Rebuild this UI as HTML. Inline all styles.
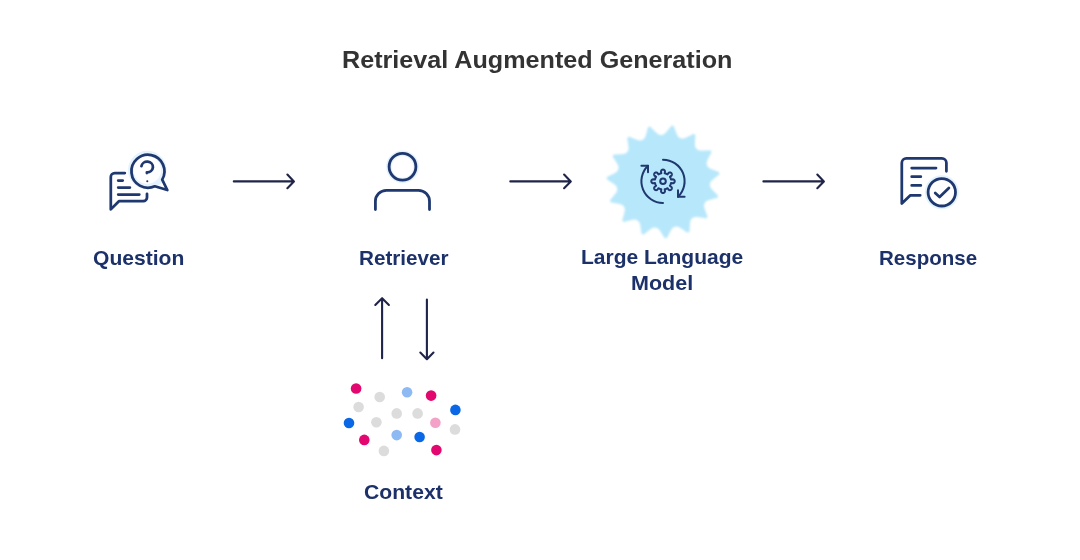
<!DOCTYPE html>
<html><head><meta charset="utf-8">
<style>
html,body{margin:0;padding:0;background:#fff;}
body{width:1080px;height:560px;position:relative;overflow:hidden;font-family:"Liberation Sans",sans-serif;}
.t{position:absolute;white-space:nowrap;font-weight:bold;line-height:1;transform-origin:0 0;}
.ttl{color:#333333;}
.lbl{color:#1c3169;}
#wrap{position:absolute;left:0;top:0;width:1080px;height:560px;filter:blur(0.45px);}
</style></head><body><div id="wrap">

<svg width="1080" height="560" viewBox="0 0 1080 560" style="position:absolute;left:0;top:0">
 <g fill="none" stroke-linecap="round" stroke-linejoin="round">
  <!-- Question icon -->
  <g stroke="#1f386f" stroke-width="2.75">
   <circle cx="147.3" cy="170" r="16.5" stroke="#e4f3fd" stroke-width="5.5"/>
   <path d="M124.8,173 H114.7 A3.9,3.9 0 0 0 110.8,176.9 V209.4 L118.9,201.2 H143.2 A3.8,3.8 0 0 0 147,197.4 V193.8"/>
   <path d="M118.2,180.5 H122.7 M118.2,187.6 H129.9 M118.2,194.6 H139.3"/>
   <path d="M162.2,179.6 A16.5,16.5 0 1 0 154.8,186.3 L167.3,190 Z"/>
   <path d="M141.4,166.2 A5.8,5.3 0 1 1 146.9,172.3 V173"/>
   <circle cx="147.3" cy="181.3" r="1.05" fill="#1f386f" stroke="none"/>
  </g>
  <!-- Retriever icon -->
  <g stroke="#1f386f" stroke-width="2.8">
   <circle cx="402.5" cy="166.8" r="13.6" stroke="#e4f3fd" stroke-width="5.5"/>
   <circle cx="402.5" cy="166.8" r="13.4"/>
   <path d="M375.4,209.6 V201.3 A11,11 0 0 1 386.4,190.3 H418.5 A11,11 0 0 1 429.5,201.3 V209.6"/>
  </g>
  <!-- LLM burst -->
  <defs><filter id="bl" x="-10%" y="-10%" width="120%" height="120%"><feGaussianBlur stdDeviation="0.8"/></filter></defs>
  <path d="M663.30,134.56 L663.46,134.48 L663.63,134.40 L663.80,134.30 L663.96,134.20 L664.13,134.08 L664.30,133.96 L664.47,133.83 L664.64,133.69 L664.81,133.54 L664.98,133.38 L665.16,133.22 L665.34,133.04 L665.51,132.86 L665.69,132.67 L665.87,132.48 L666.06,132.27 L666.24,132.06 L666.43,131.85 L666.62,131.63 L666.81,131.40 L667.00,131.17 L667.20,130.94 L667.39,130.71 L667.59,130.47 L667.79,130.23 L668.00,129.98 L668.20,129.74 L668.41,129.50 L668.62,129.25 L668.83,129.00 L669.04,128.75 L669.26,128.50 L669.47,128.24 L669.69,127.98 L669.92,127.71 L670.15,127.42 L670.38,127.09 L670.63,126.67 L670.89,126.18 L671.11,126.03 L671.32,125.91 L671.53,125.83 L671.74,125.78 L671.95,125.75 L672.15,125.74 L672.35,125.75 L672.54,125.76 L672.74,125.80 L672.93,125.84 L673.12,125.90 L673.31,125.98 L673.49,126.08 L673.67,126.19 L673.84,126.33 L674.01,126.51 L674.17,126.73 L674.25,127.28 L674.35,127.75 L674.47,128.14 L674.59,128.49 L674.71,128.82 L674.83,129.14 L674.96,129.45 L675.08,129.76 L675.20,130.07 L675.32,130.37 L675.43,130.67 L675.55,130.97 L675.66,131.27 L675.78,131.56 L675.89,131.86 L676.00,132.15 L676.11,132.43 L676.22,132.72 L676.32,133.00 L676.43,133.27 L676.54,133.54 L676.64,133.80 L676.75,134.06 L676.86,134.31 L676.97,134.56 L677.08,134.80 L677.18,135.03 L677.29,135.25 L677.41,135.46 L677.52,135.67 L677.63,135.86 L677.75,136.05 L677.87,136.23 L677.99,136.40 L678.11,136.56 L678.23,136.72 L678.36,136.86 L678.48,137.00 L678.61,137.12 L678.75,137.24 L678.88,137.35 L679.02,137.46 L679.16,137.56 L679.30,137.65 L679.44,137.73 L679.59,137.81 L679.73,137.88 L679.88,137.95 L680.03,138.02 L680.18,138.08 L680.33,138.14 L680.48,138.20 L680.63,138.26 L680.79,138.32 L680.94,138.37 L681.10,138.42 L681.25,138.47 L681.41,138.51 L681.58,138.54 L681.74,138.57 L681.91,138.60 L682.08,138.61 L682.25,138.62 L682.43,138.63 L682.61,138.62 L682.80,138.61 L682.99,138.59 L683.19,138.56 L683.38,138.53 L683.59,138.49 L683.80,138.43 L684.01,138.38 L684.23,138.31 L684.45,138.24 L684.68,138.16 L684.91,138.07 L685.15,137.97 L685.39,137.88 L685.63,137.77 L685.88,137.66 L686.14,137.54 L686.40,137.42 L686.66,137.30 L686.92,137.17 L687.19,137.04 L687.47,136.91 L687.74,136.77 L688.02,136.63 L688.30,136.50 L688.59,136.36 L688.87,136.22 L689.16,136.08 L689.45,135.94 L689.74,135.80 L690.04,135.66 L690.34,135.51 L690.64,135.37 L690.95,135.22 L691.27,135.06 L691.59,134.88 L691.94,134.68 L692.34,134.40 L692.78,134.06 L693.04,134.01 L693.28,133.99 L693.50,134.01 L693.71,134.04 L693.91,134.10 L694.10,134.17 L694.28,134.25 L694.45,134.35 L694.62,134.46 L694.78,134.58 L694.92,134.71 L695.06,134.86 L695.19,135.02 L695.31,135.20 L695.41,135.40 L695.49,135.63 L695.54,135.89 L695.40,136.43 L695.30,136.90 L695.25,137.30 L695.22,137.67 L695.19,138.02 L695.17,138.37 L695.16,138.70 L695.14,139.03 L695.13,139.36 L695.11,139.69 L695.10,140.01 L695.08,140.33 L695.07,140.65 L695.05,140.96 L695.03,141.28 L695.01,141.59 L695.00,141.89 L694.98,142.20 L694.97,142.49 L694.95,142.79 L694.94,143.08 L694.93,143.36 L694.92,143.64 L694.92,143.92 L694.92,144.18 L694.92,144.45 L694.93,144.70 L694.94,144.95 L694.95,145.19 L694.97,145.42 L695.00,145.65 L695.03,145.87 L695.06,146.08 L695.10,146.28 L695.14,146.48 L695.20,146.67 L695.25,146.85 L695.31,147.03 L695.38,147.20 L695.45,147.36 L695.53,147.52 L695.61,147.67 L695.70,147.81 L695.79,147.95 L695.89,148.09 L695.99,148.22 L696.09,148.35 L696.20,148.47 L696.31,148.59 L696.42,148.71 L696.53,148.83 L696.65,148.94 L696.76,149.06 L696.88,149.17 L697.00,149.28 L697.12,149.39 L697.25,149.50 L697.38,149.60 L697.51,149.70 L697.65,149.79 L697.79,149.88 L697.94,149.97 L698.10,150.05 L698.26,150.12 L698.42,150.19 L698.60,150.26 L698.78,150.32 L698.97,150.37 L699.17,150.42 L699.37,150.47 L699.58,150.50 L699.80,150.54 L700.03,150.56 L700.26,150.59 L700.50,150.61 L700.75,150.62 L701.00,150.63 L701.26,150.64 L701.53,150.64 L701.80,150.64 L702.08,150.64 L702.37,150.64 L702.66,150.63 L702.95,150.62 L703.25,150.61 L703.55,150.60 L703.86,150.59 L704.17,150.58 L704.48,150.57 L704.80,150.55 L705.12,150.54 L705.44,150.53 L705.76,150.52 L706.09,150.51 L706.42,150.50 L706.75,150.49 L707.08,150.48 L707.43,150.47 L707.78,150.46 L708.15,150.43 L708.55,150.39 L709.03,150.29 L709.57,150.16 L709.83,150.22 L710.05,150.30 L710.25,150.41 L710.43,150.52 L710.59,150.66 L710.73,150.80 L710.86,150.95 L710.98,151.11 L711.09,151.27 L711.18,151.45 L711.26,151.63 L711.33,151.82 L711.38,152.02 L711.41,152.23 L711.42,152.45 L711.40,152.70 L711.35,152.96 L711.00,153.39 L710.71,153.78 L710.50,154.13 L710.32,154.45 L710.16,154.76 L710.00,155.07 L709.85,155.37 L709.70,155.67 L709.56,155.96 L709.41,156.25 L709.27,156.54 L709.12,156.82 L708.98,157.11 L708.83,157.39 L708.69,157.67 L708.55,157.94 L708.41,158.22 L708.27,158.49 L708.13,158.76 L708.00,159.02 L707.87,159.28 L707.75,159.54 L707.63,159.79 L707.51,160.04 L707.40,160.28 L707.30,160.52 L707.20,160.75 L707.11,160.98 L707.03,161.21 L706.95,161.43 L706.88,161.65 L706.82,161.86 L706.76,162.07 L706.71,162.27 L706.68,162.47 L706.65,162.66 L706.62,162.85 L706.61,163.04 L706.60,163.22 L706.60,163.40 L706.61,163.57 L706.62,163.74 L706.64,163.91 L706.67,164.08 L706.70,164.24 L706.74,164.40 L706.78,164.56 L706.83,164.72 L706.88,164.87 L706.93,165.02 L706.99,165.18 L707.05,165.33 L707.11,165.48 L707.17,165.63 L707.23,165.78 L707.30,165.93 L707.37,166.08 L707.44,166.23 L707.53,166.37 L707.61,166.51 L707.71,166.65 L707.81,166.79 L707.92,166.93 L708.04,167.06 L708.16,167.20 L708.29,167.33 L708.44,167.45 L708.59,167.58 L708.75,167.71 L708.92,167.83 L709.09,167.95 L709.28,168.07 L709.47,168.19 L709.68,168.30 L709.89,168.42 L710.11,168.53 L710.34,168.64 L710.57,168.76 L710.82,168.87 L711.07,168.98 L711.32,169.09 L711.58,169.20 L711.85,169.31 L712.12,169.43 L712.40,169.54 L712.68,169.65 L712.97,169.77 L713.26,169.88 L713.55,170.00 L713.84,170.12 L714.14,170.24 L714.43,170.36 L714.73,170.48 L715.03,170.60 L715.34,170.73 L715.64,170.86 L715.95,170.98 L716.27,171.11 L716.60,171.24 L716.95,171.37 L717.33,171.49 L717.81,171.60 L718.35,171.69 L718.57,171.85 L718.74,172.02 L718.88,172.20 L718.99,172.38 L719.08,172.56 L719.16,172.75 L719.22,172.94 L719.26,173.14 L719.29,173.33 L719.30,173.53 L719.30,173.73 L719.29,173.93 L719.26,174.13 L719.20,174.34 L719.12,174.55 L719.00,174.76 L718.84,174.98 L718.35,175.23 L717.93,175.47 L717.60,175.70 L717.30,175.92 L717.02,176.14 L716.76,176.36 L716.50,176.57 L716.24,176.78 L715.99,176.99 L715.74,177.20 L715.49,177.40 L715.24,177.60 L714.99,177.80 L714.74,178.00 L714.50,178.20 L714.26,178.39 L714.02,178.59 L713.78,178.78 L713.55,178.97 L713.32,179.15 L713.10,179.34 L712.88,179.52 L712.67,179.70 L712.46,179.88 L712.26,180.06 L712.07,180.24 L711.89,180.41 L711.71,180.59 L711.54,180.76 L711.38,180.93 L711.23,181.10 L711.08,181.27 L710.95,181.43 L710.82,181.60 L710.71,181.77 L710.60,181.93 L710.50,182.09 L710.41,182.26 L710.33,182.42 L710.26,182.58 L710.19,182.75 L710.14,182.91 L710.09,183.07 L710.05,183.23 L710.01,183.39 L709.98,183.56 L709.95,183.72 L709.93,183.88 L709.92,184.04 L709.90,184.21 L709.89,184.37 L709.88,184.53 L709.87,184.69 L709.87,184.86 L709.86,185.02 L709.87,185.18 L709.87,185.35 L709.88,185.51 L709.90,185.68 L709.92,185.84 L709.95,186.01 L709.98,186.18 L710.03,186.35 L710.08,186.52 L710.14,186.69 L710.21,186.86 L710.29,187.04 L710.37,187.21 L710.47,187.39 L710.57,187.57 L710.69,187.75 L710.81,187.94 L710.94,188.13 L711.08,188.31 L711.22,188.51 L711.38,188.70 L711.54,188.90 L711.71,189.09 L711.89,189.30 L712.07,189.50 L712.26,189.70 L712.45,189.91 L712.65,190.12 L712.85,190.34 L713.06,190.55 L713.27,190.77 L713.49,190.99 L713.70,191.21 L713.92,191.44 L714.14,191.67 L714.36,191.90 L714.59,192.13 L714.81,192.36 L715.03,192.60 L715.26,192.83 L715.49,193.07 L715.72,193.32 L715.96,193.56 L716.21,193.81 L716.47,194.07 L716.77,194.34 L717.16,194.63 L717.62,194.94 L717.75,195.18 L717.84,195.40 L717.90,195.62 L717.93,195.83 L717.94,196.04 L717.93,196.24 L717.90,196.44 L717.86,196.63 L717.81,196.82 L717.74,197.01 L717.66,197.19 L717.57,197.37 L717.45,197.54 L717.32,197.70 L717.16,197.86 L716.97,198.01 L716.74,198.14 L716.18,198.17 L715.70,198.22 L715.30,198.30 L714.94,198.38 L714.60,198.47 L714.27,198.55 L713.94,198.64 L713.62,198.73 L713.31,198.82 L712.99,198.91 L712.68,198.99 L712.37,199.07 L712.06,199.16 L711.76,199.24 L711.46,199.32 L711.16,199.40 L710.86,199.48 L710.57,199.55 L710.28,199.63 L709.99,199.71 L709.71,199.79 L709.44,199.87 L709.17,199.95 L708.91,200.03 L708.66,200.11 L708.41,200.19 L708.17,200.28 L707.94,200.36 L707.71,200.45 L707.49,200.54 L707.29,200.63 L707.09,200.73 L706.90,200.83 L706.71,200.93 L706.54,201.03 L706.38,201.14 L706.22,201.25 L706.07,201.36 L705.93,201.48 L705.80,201.60 L705.67,201.72 L705.56,201.85 L705.45,201.97 L705.34,202.10 L705.24,202.24 L705.15,202.37 L705.06,202.51 L704.97,202.65 L704.89,202.79 L704.82,202.94 L704.74,203.08 L704.66,203.22 L704.59,203.37 L704.52,203.52 L704.45,203.66 L704.38,203.81 L704.32,203.96 L704.26,204.12 L704.21,204.28 L704.16,204.44 L704.12,204.60 L704.09,204.77 L704.06,204.94 L704.04,205.12 L704.02,205.30 L704.01,205.49 L704.01,205.68 L704.02,205.87 L704.04,206.08 L704.06,206.28 L704.09,206.50 L704.12,206.71 L704.17,206.94 L704.22,207.17 L704.27,207.40 L704.33,207.64 L704.40,207.89 L704.48,208.14 L704.56,208.39 L704.64,208.65 L704.73,208.92 L704.82,209.19 L704.92,209.46 L705.02,209.74 L705.12,210.02 L705.22,210.30 L705.33,210.59 L705.43,210.88 L705.54,211.18 L705.65,211.48 L705.76,211.77 L705.87,212.08 L705.98,212.38 L706.09,212.69 L706.20,213.00 L706.31,213.31 L706.42,213.63 L706.54,213.95 L706.66,214.28 L706.80,214.62 L706.97,214.99 L707.21,215.41 L707.50,215.88 L707.52,216.15 L707.51,216.39 L707.48,216.61 L707.42,216.82 L707.34,217.01 L707.25,217.19 L707.15,217.36 L707.03,217.52 L706.91,217.68 L706.77,217.82 L706.62,217.95 L706.46,218.08 L706.29,218.19 L706.10,218.28 L705.89,218.36 L705.65,218.42 L705.39,218.45 L704.87,218.25 L704.41,218.10 L704.01,218.00 L703.65,217.93 L703.30,217.87 L702.96,217.82 L702.63,217.77 L702.30,217.72 L701.98,217.67 L701.66,217.62 L701.34,217.57 L701.02,217.52 L700.71,217.47 L700.40,217.42 L700.09,217.37 L699.78,217.32 L699.48,217.27 L699.18,217.23 L698.88,217.18 L698.59,217.14 L698.30,217.09 L698.02,217.06 L697.74,217.02 L697.47,216.99 L697.21,216.96 L696.95,216.93 L696.69,216.91 L696.44,216.90 L696.20,216.89 L695.97,216.88 L695.74,216.88 L695.52,216.89 L695.31,216.90 L695.10,216.92 L694.90,216.94 L694.70,216.97 L694.52,217.01 L694.34,217.05 L694.16,217.10 L693.99,217.16 L693.83,217.22 L693.67,217.28 L693.51,217.35 L693.37,217.43 L693.22,217.51 L693.08,217.60 L692.94,217.69 L692.81,217.78 L692.68,217.88 L692.55,217.98 L692.42,218.08 L692.29,218.18 L692.17,218.28 L692.04,218.39 L691.92,218.49 L691.80,218.60 L691.68,218.72 L691.56,218.83 L691.45,218.96 L691.34,219.08 L691.24,219.22 L691.14,219.36 L691.04,219.50 L690.95,219.66 L690.86,219.81 L690.78,219.98 L690.70,220.16 L690.63,220.34 L690.56,220.53 L690.49,220.73 L690.43,220.93 L690.38,221.15 L690.33,221.37 L690.28,221.60 L690.24,221.84 L690.19,222.08 L690.16,222.33 L690.12,222.59 L690.09,222.86 L690.06,223.13 L690.04,223.41 L690.01,223.69 L689.99,223.98 L689.97,224.27 L689.94,224.57 L689.92,224.87 L689.90,225.18 L689.88,225.49 L689.86,225.80 L689.84,226.12 L689.82,226.44 L689.79,226.76 L689.77,227.08 L689.74,227.40 L689.72,227.73 L689.69,228.06 L689.67,228.40 L689.64,228.74 L689.62,229.09 L689.61,229.46 L689.61,229.86 L689.66,230.35 L689.73,230.90 L689.65,231.15 L689.54,231.37 L689.42,231.56 L689.28,231.72 L689.13,231.86 L688.98,231.99 L688.81,232.10 L688.64,232.21 L688.46,232.29 L688.28,232.37 L688.09,232.43 L687.90,232.48 L687.69,232.51 L687.48,232.52 L687.26,232.51 L687.02,232.46 L686.76,232.38 L686.37,231.99 L686.01,231.66 L685.69,231.42 L685.38,231.20 L685.09,231.01 L684.80,230.82 L684.52,230.64 L684.24,230.46 L683.97,230.28 L683.69,230.11 L683.42,229.93 L683.15,229.76 L682.88,229.59 L682.62,229.41 L682.36,229.24 L682.10,229.07 L681.84,228.90 L681.58,228.74 L681.33,228.58 L681.08,228.42 L680.84,228.26 L680.60,228.11 L680.36,227.97 L680.12,227.83 L679.89,227.69 L679.67,227.56 L679.44,227.44 L679.22,227.33 L679.01,227.22 L678.80,227.12 L678.59,227.03 L678.38,226.94 L678.18,226.87 L677.99,226.80 L677.79,226.74 L677.60,226.69 L677.42,226.64 L677.23,226.61 L677.05,226.58 L676.88,226.56 L676.70,226.55 L676.53,226.55 L676.36,226.55 L676.19,226.56 L676.03,226.58 L675.86,226.60 L675.70,226.63 L675.54,226.66 L675.38,226.69 L675.22,226.73 L675.07,226.77 L674.91,226.81 L674.75,226.85 L674.59,226.90 L674.44,226.94 L674.28,226.99 L674.13,227.05 L673.97,227.11 L673.82,227.18 L673.67,227.25 L673.52,227.33 L673.37,227.41 L673.23,227.51 L673.08,227.61 L672.94,227.72 L672.79,227.84 L672.65,227.97 L672.51,228.10 L672.37,228.25 L672.23,228.41 L672.09,228.57 L671.95,228.74 L671.81,228.92 L671.68,229.11 L671.54,229.31 L671.40,229.52 L671.27,229.73 L671.13,229.96 L671.00,230.19 L670.86,230.42 L670.72,230.67 L670.58,230.92 L670.44,231.17 L670.30,231.43 L670.16,231.69 L670.02,231.96 L669.88,232.23 L669.73,232.51 L669.58,232.78 L669.44,233.06 L669.29,233.35 L669.14,233.63 L668.98,233.91 L668.83,234.20 L668.67,234.49 L668.51,234.78 L668.35,235.07 L668.19,235.38 L668.03,235.69 L667.87,236.02 L667.71,236.39 L667.55,236.85 L667.40,237.39 L667.21,237.58 L667.03,237.74 L666.84,237.86 L666.65,237.95 L666.45,238.02 L666.26,238.08 L666.06,238.11 L665.87,238.14 L665.67,238.15 L665.47,238.14 L665.27,238.12 L665.08,238.08 L664.88,238.03 L664.68,237.95 L664.48,237.85 L664.28,237.71 L664.08,237.53 L663.88,237.01 L663.68,236.57 L663.49,236.21 L663.30,235.90 L663.11,235.60 L662.93,235.31 L662.74,235.03 L662.56,234.75 L662.38,234.48 L662.20,234.21 L662.02,233.94 L661.85,233.67 L661.67,233.40 L661.50,233.14 L661.33,232.87 L661.16,232.61 L661.00,232.36 L660.83,232.10 L660.67,231.85 L660.50,231.60 L660.34,231.36 L660.18,231.13 L660.03,230.90 L659.87,230.67 L659.71,230.46 L659.56,230.25 L659.40,230.04 L659.25,229.85 L659.10,229.66 L658.94,229.49 L658.79,229.32 L658.64,229.16 L658.48,229.01 L658.33,228.86 L658.18,228.73 L658.03,228.61 L657.87,228.49 L657.72,228.39 L657.57,228.29 L657.41,228.20 L657.26,228.12 L657.10,228.04 L656.95,227.98 L656.79,227.92 L656.63,227.87 L656.47,227.82 L656.32,227.78 L656.16,227.74 L656.00,227.71 L655.84,227.68 L655.68,227.65 L655.52,227.62 L655.36,227.60 L655.19,227.57 L655.03,227.55 L654.87,227.54 L654.71,227.52 L654.54,227.52 L654.37,227.52 L654.21,227.52 L654.04,227.53 L653.87,227.55 L653.69,227.58 L653.52,227.61 L653.34,227.65 L653.16,227.70 L652.98,227.76 L652.80,227.83 L652.61,227.91 L652.42,227.99 L652.23,228.08 L652.03,228.19 L651.83,228.30 L651.63,228.41 L651.42,228.54 L651.21,228.67 L651.00,228.81 L650.79,228.96 L650.57,229.12 L650.35,229.28 L650.12,229.44 L649.89,229.61 L649.66,229.79 L649.43,229.97 L649.19,230.15 L648.95,230.34 L648.71,230.53 L648.47,230.72 L648.22,230.92 L647.97,231.11 L647.72,231.31 L647.47,231.50 L647.21,231.70 L646.96,231.90 L646.70,232.10 L646.43,232.30 L646.17,232.51 L645.90,232.72 L645.62,232.94 L645.34,233.18 L645.04,233.45 L644.71,233.81 L644.35,234.23 L644.11,234.34 L643.87,234.40 L643.65,234.43 L643.44,234.44 L643.23,234.43 L643.03,234.40 L642.84,234.35 L642.65,234.29 L642.47,234.22 L642.29,234.14 L642.11,234.04 L641.95,233.92 L641.79,233.79 L641.64,233.64 L641.50,233.47 L641.37,233.26 L641.26,233.01 L641.29,232.46 L641.29,231.97 L641.26,231.57 L641.22,231.20 L641.16,230.85 L641.11,230.52 L641.06,230.18 L641.00,229.86 L640.95,229.53 L640.90,229.21 L640.84,228.89 L640.79,228.58 L640.74,228.26 L640.69,227.95 L640.65,227.64 L640.60,227.33 L640.55,227.03 L640.50,226.73 L640.46,226.43 L640.41,226.14 L640.36,225.86 L640.31,225.58 L640.26,225.30 L640.21,225.03 L640.15,224.77 L640.09,224.52 L640.04,224.27 L639.97,224.03 L639.91,223.80 L639.84,223.57 L639.77,223.36 L639.70,223.15 L639.62,222.95 L639.54,222.76 L639.45,222.57 L639.36,222.40 L639.27,222.23 L639.17,222.07 L639.07,221.92 L638.97,221.78 L638.86,221.64 L638.75,221.51 L638.63,221.38 L638.51,221.27 L638.39,221.15 L638.27,221.05 L638.14,220.94 L638.01,220.85 L637.88,220.75 L637.74,220.66 L637.61,220.57 L637.47,220.48 L637.33,220.39 L637.20,220.30 L637.06,220.22 L636.91,220.14 L636.77,220.06 L636.62,219.98 L636.47,219.92 L636.32,219.85 L636.16,219.79 L635.99,219.74 L635.82,219.70 L635.65,219.66 L635.47,219.62 L635.29,219.59 L635.10,219.57 L634.90,219.56 L634.70,219.55 L634.49,219.55 L634.28,219.56 L634.06,219.57 L633.83,219.59 L633.60,219.62 L633.36,219.65 L633.11,219.69 L632.86,219.73 L632.60,219.78 L632.34,219.83 L632.07,219.89 L631.80,219.95 L631.52,220.01 L631.24,220.08 L630.96,220.15 L630.66,220.22 L630.37,220.29 L630.07,220.37 L629.77,220.44 L629.47,220.52 L629.16,220.60 L628.85,220.67 L628.54,220.75 L628.23,220.83 L627.91,220.90 L627.59,220.98 L627.27,221.06 L626.94,221.14 L626.61,221.22 L626.27,221.31 L625.91,221.41 L625.53,221.54 L625.08,221.73 L624.58,221.97 L624.32,221.97 L624.08,221.93 L623.86,221.87 L623.66,221.79 L623.48,221.70 L623.31,221.59 L623.15,221.47 L623.00,221.34 L622.86,221.20 L622.74,221.05 L622.62,220.89 L622.51,220.71 L622.42,220.53 L622.34,220.33 L622.29,220.11 L622.26,219.87 L622.26,219.61 L622.51,219.11 L622.71,218.67 L622.84,218.29 L622.95,217.93 L623.04,217.59 L623.13,217.26 L623.22,216.94 L623.30,216.62 L623.38,216.30 L623.47,215.98 L623.55,215.67 L623.63,215.36 L623.71,215.05 L623.80,214.75 L623.88,214.45 L623.96,214.15 L624.04,213.85 L624.12,213.56 L624.19,213.27 L624.27,212.98 L624.34,212.70 L624.41,212.42 L624.47,212.15 L624.54,211.89 L624.59,211.62 L624.64,211.37 L624.69,211.12 L624.73,210.87 L624.77,210.64 L624.80,210.40 L624.82,210.18 L624.84,209.96 L624.85,209.74 L624.85,209.53 L624.85,209.33 L624.84,209.14 L624.82,208.94 L624.80,208.76 L624.77,208.58 L624.73,208.41 L624.69,208.24 L624.64,208.07 L624.58,207.91 L624.52,207.76 L624.46,207.60 L624.39,207.45 L624.31,207.31 L624.23,207.17 L624.15,207.02 L624.06,206.89 L623.98,206.75 L623.89,206.61 L623.80,206.47 L623.71,206.34 L623.62,206.20 L623.52,206.07 L623.42,205.94 L623.32,205.81 L623.21,205.69 L623.09,205.57 L622.97,205.45 L622.84,205.34 L622.71,205.23 L622.56,205.12 L622.41,205.02 L622.26,204.92 L622.09,204.82 L621.92,204.73 L621.73,204.64 L621.54,204.56 L621.35,204.47 L621.14,204.40 L620.92,204.32 L620.70,204.25 L620.47,204.18 L620.23,204.12 L619.98,204.05 L619.73,203.99 L619.47,203.93 L619.20,203.88 L618.93,203.82 L618.65,203.77 L618.36,203.71 L618.07,203.66 L617.78,203.61 L617.48,203.55 L617.18,203.50 L616.87,203.45 L616.56,203.39 L616.25,203.34 L615.94,203.28 L615.62,203.23 L615.30,203.17 L614.98,203.11 L614.66,203.05 L614.34,202.99 L614.00,202.93 L613.67,202.87 L613.32,202.82 L612.95,202.76 L612.55,202.72 L612.06,202.72 L611.51,202.74 L611.27,202.62 L611.06,202.49 L610.89,202.35 L610.74,202.20 L610.61,202.04 L610.50,201.87 L610.41,201.69 L610.32,201.51 L610.25,201.33 L610.20,201.14 L610.16,200.94 L610.13,200.74 L610.12,200.54 L610.13,200.32 L610.17,200.10 L610.24,199.87 L610.35,199.63 L610.78,199.28 L611.14,198.95 L611.42,198.66 L611.66,198.38 L611.89,198.11 L612.10,197.84 L612.31,197.58 L612.52,197.32 L612.72,197.06 L612.93,196.81 L613.13,196.56 L613.33,196.31 L613.53,196.06 L613.73,195.81 L613.93,195.57 L614.12,195.33 L614.32,195.09 L614.51,194.86 L614.70,194.62 L614.88,194.39 L615.06,194.17 L615.23,193.94 L615.40,193.72 L615.57,193.50 L615.73,193.29 L615.88,193.07 L616.02,192.86 L616.16,192.66 L616.29,192.45 L616.41,192.25 L616.53,192.06 L616.63,191.86 L616.73,191.67 L616.81,191.48 L616.89,191.29 L616.96,191.11 L617.03,190.93 L617.08,190.75 L617.13,190.58 L617.16,190.40 L617.19,190.23 L617.21,190.06 L617.23,189.89 L617.24,189.72 L617.24,189.56 L617.23,189.39 L617.22,189.23 L617.21,189.06 L617.19,188.90 L617.17,188.74 L617.15,188.58 L617.13,188.42 L617.10,188.26 L617.07,188.10 L617.04,187.94 L617.01,187.78 L616.97,187.62 L616.92,187.46 L616.87,187.30 L616.82,187.14 L616.75,186.99 L616.68,186.83 L616.61,186.67 L616.52,186.52 L616.42,186.36 L616.32,186.21 L616.21,186.05 L616.09,185.90 L615.96,185.74 L615.82,185.59 L615.67,185.43 L615.51,185.28 L615.35,185.12 L615.17,184.97 L614.99,184.81 L614.80,184.65 L614.60,184.49 L614.39,184.33 L614.18,184.17 L613.95,184.01 L613.73,183.85 L613.49,183.69 L613.25,183.52 L613.01,183.36 L612.76,183.19 L612.51,183.02 L612.26,182.85 L612.00,182.67 L611.74,182.50 L611.48,182.32 L611.21,182.15 L610.95,181.97 L610.68,181.78 L610.41,181.60 L610.14,181.41 L609.87,181.23 L609.59,181.04 L609.31,180.85 L609.01,180.65 L608.70,180.46 L608.35,180.26 L607.90,180.05 L607.39,179.84 L607.21,179.64 L607.08,179.44 L606.98,179.24 L606.91,179.04 L606.86,178.84 L606.82,178.64 L606.81,178.44 L606.80,178.24 L606.82,178.05 L606.84,177.85 L606.88,177.65 L606.94,177.46 L607.02,177.27 L607.11,177.08 L607.24,176.89 L607.39,176.71 L607.59,176.53 L608.13,176.38 L608.59,176.24 L608.97,176.08 L609.30,175.92 L609.62,175.77 L609.92,175.61 L610.22,175.46 L610.51,175.31 L610.81,175.15 L611.09,175.00 L611.38,174.86 L611.67,174.71 L611.95,174.57 L612.23,174.42 L612.51,174.28 L612.79,174.14 L613.06,174.00 L613.33,173.86 L613.60,173.73 L613.86,173.59 L614.12,173.46 L614.37,173.32 L614.62,173.19 L614.86,173.06 L615.09,172.93 L615.31,172.79 L615.53,172.66 L615.74,172.53 L615.94,172.39 L616.13,172.26 L616.32,172.13 L616.49,171.99 L616.66,171.86 L616.81,171.72 L616.96,171.58 L617.10,171.44 L617.23,171.30 L617.35,171.16 L617.47,171.02 L617.57,170.87 L617.67,170.73 L617.76,170.58 L617.84,170.43 L617.91,170.28 L617.98,170.13 L618.05,169.98 L618.11,169.83 L618.16,169.67 L618.21,169.52 L618.26,169.36 L618.30,169.21 L618.34,169.05 L618.39,168.89 L618.43,168.73 L618.46,168.57 L618.50,168.41 L618.53,168.25 L618.55,168.09 L618.57,167.92 L618.58,167.76 L618.59,167.59 L618.59,167.42 L618.58,167.24 L618.56,167.06 L618.54,166.88 L618.51,166.70 L618.47,166.51 L618.42,166.32 L618.37,166.13 L618.30,165.93 L618.23,165.73 L618.15,165.52 L618.06,165.31 L617.96,165.10 L617.86,164.88 L617.75,164.66 L617.63,164.43 L617.51,164.20 L617.38,163.97 L617.24,163.73 L617.10,163.49 L616.95,163.25 L616.80,163.00 L616.64,162.75 L616.49,162.50 L616.33,162.24 L616.16,161.98 L616.00,161.72 L615.83,161.45 L615.66,161.18 L615.49,160.91 L615.32,160.64 L615.15,160.37 L614.98,160.09 L614.81,159.81 L614.64,159.53 L614.46,159.24 L614.28,158.95 L614.09,158.65 L613.88,158.35 L613.64,158.02 L613.32,157.65 L612.94,157.25 L612.86,157.00 L612.82,156.76 L612.81,156.54 L612.82,156.32 L612.86,156.12 L612.91,155.92 L612.97,155.74 L613.05,155.55 L613.14,155.38 L613.25,155.21 L613.37,155.05 L613.50,154.90 L613.64,154.75 L613.81,154.62 L614.00,154.50 L614.22,154.39 L614.47,154.31 L615.02,154.40 L615.50,154.45 L615.91,154.46 L616.28,154.45 L616.63,154.44 L616.97,154.42 L617.31,154.40 L617.64,154.38 L617.97,154.36 L618.29,154.34 L618.61,154.32 L618.93,154.31 L619.25,154.29 L619.57,154.27 L619.88,154.26 L620.19,154.24 L620.50,154.23 L620.80,154.21 L621.10,154.19 L621.39,154.18 L621.68,154.16 L621.97,154.14 L622.25,154.12 L622.52,154.09 L622.78,154.07 L623.04,154.04 L623.30,154.00 L623.54,153.97 L623.78,153.93 L624.01,153.88 L624.23,153.84 L624.45,153.78 L624.65,153.73 L624.85,153.67 L625.04,153.60 L625.23,153.53 L625.40,153.46 L625.57,153.38 L625.73,153.29 L625.89,153.20 L626.04,153.11 L626.18,153.01 L626.31,152.91 L626.44,152.80 L626.57,152.69 L626.69,152.58 L626.80,152.46 L626.91,152.34 L627.02,152.22 L627.13,152.10 L627.23,151.97 L627.34,151.85 L627.44,151.72 L627.54,151.59 L627.64,151.46 L627.73,151.33 L627.83,151.20 L627.91,151.06 L628.00,150.91 L628.08,150.77 L628.15,150.61 L628.22,150.46 L628.29,150.29 L628.34,150.12 L628.40,149.95 L628.44,149.77 L628.48,149.58 L628.52,149.39 L628.54,149.19 L628.57,148.98 L628.58,148.77 L628.59,148.55 L628.60,148.32 L628.59,148.09 L628.59,147.84 L628.58,147.60 L628.56,147.34 L628.54,147.08 L628.52,146.82 L628.49,146.54 L628.46,146.27 L628.42,145.98 L628.38,145.70 L628.35,145.40 L628.30,145.11 L628.26,144.81 L628.22,144.50 L628.17,144.20 L628.13,143.88 L628.09,143.57 L628.04,143.26 L628.00,142.94 L627.95,142.62 L627.91,142.30 L627.87,141.97 L627.82,141.64 L627.78,141.31 L627.73,140.97 L627.68,140.62 L627.61,140.26 L627.53,139.86 L627.38,139.40 L627.19,138.87 L627.23,138.61 L627.29,138.37 L627.37,138.17 L627.47,137.98 L627.58,137.81 L627.71,137.65 L627.85,137.50 L627.99,137.37 L628.15,137.25 L628.31,137.13 L628.48,137.03 L628.66,136.95 L628.86,136.87 L629.06,136.82 L629.28,136.79 L629.53,136.78 L629.79,136.81 L630.26,137.11 L630.68,137.36 L631.04,137.53 L631.38,137.67 L631.71,137.80 L632.03,137.93 L632.35,138.04 L632.66,138.16 L632.96,138.28 L633.27,138.39 L633.57,138.51 L633.87,138.62 L634.17,138.73 L634.46,138.85 L634.76,138.96 L635.04,139.07 L635.33,139.18 L635.61,139.29 L635.89,139.40 L636.17,139.50 L636.44,139.60 L636.71,139.70 L636.97,139.79 L637.23,139.88 L637.49,139.97 L637.74,140.04 L637.98,140.12 L638.22,140.18 L638.45,140.24 L638.68,140.30 L638.90,140.35 L639.12,140.39 L639.33,140.42 L639.54,140.44 L639.74,140.46 L639.94,140.47 L640.13,140.47 L640.31,140.47 L640.50,140.46 L640.67,140.44 L640.85,140.41 L641.01,140.38 L641.18,140.34 L641.34,140.30 L641.50,140.25 L641.65,140.20 L641.81,140.14 L641.96,140.07 L642.11,140.01 L642.25,139.94 L642.40,139.87 L642.55,139.79 L642.69,139.72 L642.84,139.64 L642.98,139.56 L643.12,139.48 L643.26,139.40 L643.40,139.30 L643.53,139.21 L643.66,139.11 L643.79,139.00 L643.92,138.88 L644.05,138.76 L644.17,138.63 L644.29,138.49 L644.40,138.34 L644.51,138.19 L644.62,138.03 L644.73,137.85 L644.84,137.67 L644.94,137.49 L645.04,137.29 L645.13,137.08 L645.23,136.87 L645.32,136.64 L645.41,136.41 L645.50,136.17 L645.59,135.93 L645.67,135.68 L645.76,135.42 L645.84,135.15 L645.92,134.88 L646.01,134.60 L646.09,134.32 L646.17,134.03 L646.26,133.74 L646.34,133.44 L646.43,133.14 L646.51,132.84 L646.60,132.54 L646.69,132.23 L646.77,131.92 L646.86,131.61 L646.96,131.30 L647.05,130.99 L647.14,130.67 L647.24,130.34 L647.33,130.02 L647.42,129.68 L647.51,129.32 L647.60,128.92 L647.65,128.44 L647.69,127.88 L647.83,127.65 L647.98,127.46 L648.14,127.31 L648.31,127.18 L648.48,127.07 L648.66,126.97 L648.85,126.90 L649.03,126.83 L649.23,126.78 L649.42,126.75 L649.62,126.73 L649.82,126.72 L650.03,126.73 L650.24,126.76 L650.45,126.82 L650.68,126.92 L650.91,127.05 L651.21,127.52 L651.50,127.91 L651.76,128.22 L652.01,128.49 L652.26,128.74 L652.50,128.98 L652.74,129.22 L652.97,129.45 L653.21,129.68 L653.44,129.91 L653.67,130.14 L653.90,130.37 L654.12,130.59 L654.35,130.81 L654.57,131.04 L654.79,131.26 L655.00,131.47 L655.22,131.69 L655.43,131.90 L655.64,132.11 L655.85,132.31 L656.05,132.51 L656.25,132.70 L656.45,132.89 L656.65,133.07 L656.85,133.24 L657.04,133.41 L657.23,133.56 L657.42,133.71 L657.61,133.86 L657.79,133.99 L657.97,134.11 L658.15,134.23 L658.33,134.34 L658.51,134.44 L658.68,134.52 L658.86,134.60 L659.03,134.68 L659.20,134.74 L659.37,134.80 L659.54,134.84 L659.71,134.88 L659.87,134.91 L660.04,134.94 L660.20,134.96 L660.37,134.97 L660.53,134.98 L660.69,134.98 L660.86,134.98 L661.02,134.98 L661.18,134.97 L661.35,134.97 L661.51,134.96 L661.67,134.95 L661.83,134.93 L662.00,134.92 L662.16,134.89 L662.32,134.87 L662.48,134.83 L662.65,134.79 L662.81,134.75 L662.97,134.69 L663.14,134.63Z" fill="#b7e7fb" stroke="none" filter="url(#bl)"/>
  <g stroke="#1f386f" stroke-width="2.0">
   <path d="M663.00,169.60 L663.15,169.61 L663.31,169.62 L663.46,169.65 L663.61,169.69 L663.76,169.75 L663.90,169.82 L664.05,169.90 L664.19,169.99 L664.33,170.10 L664.46,170.23 L664.58,170.38 L664.70,170.55 L664.81,170.75 L664.91,171.00 L664.98,171.33 L664.70,173.28 L664.81,173.30 L664.91,173.33 L665.02,173.35 L665.12,173.38 L665.23,173.41 L665.33,173.44 L665.43,173.47 L665.53,173.50 L665.64,173.54 L665.74,173.57 L665.84,173.61 L665.94,173.64 L666.04,173.68 L666.14,173.72 L666.24,173.77 L666.34,173.81 L666.43,173.85 L666.53,173.90 L666.63,173.95 L666.72,173.99 L666.82,174.04 L666.91,174.09 L667.01,174.15 L667.10,174.20 L667.19,174.25 L667.28,174.31 L667.38,174.37 L667.47,174.42 L668.65,172.85 L668.93,172.67 L669.18,172.56 L669.40,172.50 L669.60,172.46 L669.80,172.44 L669.98,172.44 L670.16,172.46 L670.32,172.50 L670.48,172.54 L670.63,172.60 L670.78,172.66 L670.91,172.74 L671.04,172.83 L671.16,172.92 L671.27,173.03 L671.38,173.14 L671.47,173.26 L671.56,173.39 L671.64,173.52 L671.70,173.67 L671.76,173.82 L671.80,173.98 L671.84,174.14 L671.86,174.32 L671.86,174.50 L671.84,174.70 L671.80,174.90 L671.74,175.12 L671.63,175.37 L671.45,175.65 L669.88,176.83 L669.93,176.92 L669.99,177.02 L670.05,177.11 L670.10,177.20 L670.15,177.29 L670.21,177.39 L670.26,177.48 L670.31,177.58 L670.35,177.67 L670.40,177.77 L670.45,177.87 L670.49,177.96 L670.53,178.06 L670.58,178.16 L670.62,178.26 L670.66,178.36 L670.69,178.46 L670.73,178.56 L670.76,178.66 L670.80,178.77 L670.83,178.87 L670.86,178.97 L670.89,179.07 L670.92,179.18 L670.95,179.28 L670.97,179.39 L671.00,179.49 L671.02,179.60 L672.97,179.32 L673.30,179.39 L673.55,179.49 L673.75,179.60 L673.92,179.72 L674.07,179.84 L674.20,179.97 L674.31,180.11 L674.40,180.25 L674.48,180.40 L674.55,180.54 L674.61,180.69 L674.65,180.84 L674.68,180.99 L674.69,181.15 L674.70,181.30 L674.69,181.45 L674.68,181.61 L674.65,181.76 L674.61,181.91 L674.55,182.06 L674.48,182.20 L674.40,182.35 L674.31,182.49 L674.20,182.63 L674.07,182.76 L673.92,182.88 L673.75,183.00 L673.55,183.11 L673.30,183.21 L672.97,183.28 L671.02,183.00 L671.00,183.11 L670.97,183.21 L670.95,183.32 L670.92,183.42 L670.89,183.53 L670.86,183.63 L670.83,183.73 L670.80,183.83 L670.76,183.94 L670.73,184.04 L670.69,184.14 L670.66,184.24 L670.62,184.34 L670.58,184.44 L670.53,184.54 L670.49,184.64 L670.45,184.73 L670.40,184.83 L670.35,184.93 L670.31,185.02 L670.26,185.12 L670.21,185.21 L670.15,185.31 L670.10,185.40 L670.05,185.49 L669.99,185.58 L669.93,185.68 L669.88,185.77 L671.45,186.95 L671.63,187.23 L671.74,187.48 L671.80,187.70 L671.84,187.90 L671.86,188.10 L671.86,188.28 L671.84,188.46 L671.80,188.62 L671.76,188.78 L671.70,188.93 L671.64,189.08 L671.56,189.21 L671.47,189.34 L671.38,189.46 L671.27,189.57 L671.16,189.68 L671.04,189.77 L670.91,189.86 L670.78,189.94 L670.63,190.00 L670.48,190.06 L670.32,190.10 L670.16,190.14 L669.98,190.16 L669.80,190.16 L669.60,190.14 L669.40,190.10 L669.18,190.04 L668.93,189.93 L668.65,189.75 L667.47,188.18 L667.38,188.23 L667.28,188.29 L667.19,188.35 L667.10,188.40 L667.01,188.45 L666.91,188.51 L666.82,188.56 L666.72,188.61 L666.63,188.65 L666.53,188.70 L666.43,188.75 L666.34,188.79 L666.24,188.83 L666.14,188.88 L666.04,188.92 L665.94,188.96 L665.84,188.99 L665.74,189.03 L665.64,189.06 L665.53,189.10 L665.43,189.13 L665.33,189.16 L665.23,189.19 L665.12,189.22 L665.02,189.25 L664.91,189.27 L664.81,189.30 L664.70,189.32 L664.98,191.27 L664.91,191.60 L664.81,191.85 L664.70,192.05 L664.58,192.22 L664.46,192.37 L664.33,192.50 L664.19,192.61 L664.05,192.70 L663.90,192.78 L663.76,192.85 L663.61,192.91 L663.46,192.95 L663.31,192.98 L663.15,192.99 L663.00,193.00 L662.85,192.99 L662.69,192.98 L662.54,192.95 L662.39,192.91 L662.24,192.85 L662.10,192.78 L661.95,192.70 L661.81,192.61 L661.67,192.50 L661.54,192.37 L661.42,192.22 L661.30,192.05 L661.19,191.85 L661.09,191.60 L661.02,191.27 L661.30,189.32 L661.19,189.30 L661.09,189.27 L660.98,189.25 L660.88,189.22 L660.77,189.19 L660.67,189.16 L660.57,189.13 L660.47,189.10 L660.36,189.06 L660.26,189.03 L660.16,188.99 L660.06,188.96 L659.96,188.92 L659.86,188.88 L659.76,188.83 L659.66,188.79 L659.57,188.75 L659.47,188.70 L659.37,188.65 L659.28,188.61 L659.18,188.56 L659.09,188.51 L658.99,188.45 L658.90,188.40 L658.81,188.35 L658.72,188.29 L658.62,188.23 L658.53,188.18 L657.35,189.75 L657.07,189.93 L656.82,190.04 L656.60,190.10 L656.40,190.14 L656.20,190.16 L656.02,190.16 L655.84,190.14 L655.68,190.10 L655.52,190.06 L655.37,190.00 L655.22,189.94 L655.09,189.86 L654.96,189.77 L654.84,189.68 L654.73,189.57 L654.62,189.46 L654.53,189.34 L654.44,189.21 L654.36,189.08 L654.30,188.93 L654.24,188.78 L654.20,188.62 L654.16,188.46 L654.14,188.28 L654.14,188.10 L654.16,187.90 L654.20,187.70 L654.26,187.48 L654.37,187.23 L654.55,186.95 L656.12,185.77 L656.07,185.68 L656.01,185.58 L655.95,185.49 L655.90,185.40 L655.85,185.31 L655.79,185.21 L655.74,185.12 L655.69,185.02 L655.65,184.93 L655.60,184.83 L655.55,184.73 L655.51,184.64 L655.47,184.54 L655.42,184.44 L655.38,184.34 L655.34,184.24 L655.31,184.14 L655.27,184.04 L655.24,183.94 L655.20,183.83 L655.17,183.73 L655.14,183.63 L655.11,183.53 L655.08,183.42 L655.05,183.32 L655.03,183.21 L655.00,183.11 L654.98,183.00 L653.03,183.28 L652.70,183.21 L652.45,183.11 L652.25,183.00 L652.08,182.88 L651.93,182.76 L651.80,182.63 L651.69,182.49 L651.60,182.35 L651.52,182.20 L651.45,182.06 L651.39,181.91 L651.35,181.76 L651.32,181.61 L651.31,181.45 L651.30,181.30 L651.31,181.15 L651.32,180.99 L651.35,180.84 L651.39,180.69 L651.45,180.54 L651.52,180.40 L651.60,180.25 L651.69,180.11 L651.80,179.97 L651.93,179.84 L652.08,179.72 L652.25,179.60 L652.45,179.49 L652.70,179.39 L653.03,179.32 L654.98,179.60 L655.00,179.49 L655.03,179.39 L655.05,179.28 L655.08,179.18 L655.11,179.07 L655.14,178.97 L655.17,178.87 L655.20,178.77 L655.24,178.66 L655.27,178.56 L655.31,178.46 L655.34,178.36 L655.38,178.26 L655.42,178.16 L655.47,178.06 L655.51,177.96 L655.55,177.87 L655.60,177.77 L655.65,177.67 L655.69,177.58 L655.74,177.48 L655.79,177.39 L655.85,177.29 L655.90,177.20 L655.95,177.11 L656.01,177.02 L656.07,176.92 L656.12,176.83 L654.55,175.65 L654.37,175.37 L654.26,175.12 L654.20,174.90 L654.16,174.70 L654.14,174.50 L654.14,174.32 L654.16,174.14 L654.20,173.98 L654.24,173.82 L654.30,173.67 L654.36,173.52 L654.44,173.39 L654.53,173.26 L654.62,173.14 L654.73,173.03 L654.84,172.92 L654.96,172.83 L655.09,172.74 L655.22,172.66 L655.37,172.60 L655.52,172.54 L655.68,172.50 L655.84,172.46 L656.02,172.44 L656.20,172.44 L656.40,172.46 L656.60,172.50 L656.82,172.56 L657.07,172.67 L657.35,172.85 L658.53,174.42 L658.62,174.37 L658.72,174.31 L658.81,174.25 L658.90,174.20 L658.99,174.15 L659.09,174.09 L659.18,174.04 L659.28,173.99 L659.37,173.95 L659.47,173.90 L659.57,173.85 L659.66,173.81 L659.76,173.77 L659.86,173.72 L659.96,173.68 L660.06,173.64 L660.16,173.61 L660.26,173.57 L660.36,173.54 L660.47,173.50 L660.57,173.47 L660.67,173.44 L660.77,173.41 L660.88,173.38 L660.98,173.35 L661.09,173.33 L661.19,173.30 L661.30,173.28 L661.02,171.33 L661.09,171.00 L661.19,170.75 L661.30,170.55 L661.42,170.38 L661.54,170.23 L661.67,170.10 L661.81,169.99 L661.95,169.90 L662.10,169.82 L662.24,169.75 L662.39,169.69 L662.54,169.65 L662.69,169.62 L662.85,169.61Z"/>
   <circle cx="663.0" cy="181.3" r="2.8"/>
   <path d="M663.00,202.90 A21.6,21.6 0 0 1 648.00,165.76"/>
   <path d="M663.00,159.70 A21.6,21.6 0 0 1 678.00,196.84"/>
   <path d="M641.40,165.76 H648.00 V172.36"/>
   <path d="M684.60,196.84 H678.00 V190.24"/>
  </g>
  <!-- Response icon -->
  <g stroke="#1f386f" stroke-width="2.75">
   <path d="M946.4,171.3 V163 A4.6,4.6 0 0 0 941.8,158.4 H906.4 A4.6,4.6 0 0 0 901.8,163 V203.6 L910.4,195.3 H920.2"/>
   <path d="M911.7,168 H936 M911.7,176.7 H920.8 M911.7,185.4 H920.8"/>
   <circle cx="941.8" cy="192.3" r="14.2" stroke="#e4f3fd" stroke-width="5.5"/>
   <circle cx="941.8" cy="192.3" r="13.7" fill="#fff" stroke-width="2.8"/>
   <path d="M935.2,192.9 L939.6,197.1 L948.9,188"/>
  </g>
  <!-- arrows -->
  <g stroke="#1f2448" stroke-width="2.1">
   <path d="M233.8,181.4 H293.6 M287.4,174.6 L293.9,181.4 L287.4,188.2"/>
   <path d="M510.3,181.4 H570.5 M564.1,174.6 L570.8,181.4 L564.1,188.2"/>
   <path d="M763.4,181.4 H823.6 M817.3,174.6 L823.9,181.4 L817.3,188.2"/>
   <path d="M382.1,358.3 V298.4 M375.3,305 L382.1,298.2 L388.9,305"/>
   <path d="M426.9,299.6 V359 M420.3,352.6 L426.9,359.2 L433.5,352.6"/>
  </g>
 </g>
 <!-- dots -->
 <g>
  <circle cx="356.1" cy="388.5" r="5.3" fill="#e2086f"/>
  <circle cx="379.7" cy="397.0" r="5.3" fill="#dcdcdc"/>
  <circle cx="407.1" cy="392.3" r="5.3" fill="#8ebaf4"/>
  <circle cx="431.1" cy="395.6" r="5.3" fill="#e2086f"/>
  <circle cx="358.6" cy="407.0" r="5.3" fill="#dcdcdc"/>
  <circle cx="396.7" cy="413.4" r="5.3" fill="#dcdcdc"/>
  <circle cx="417.6" cy="413.4" r="5.3" fill="#dcdcdc"/>
  <circle cx="455.4" cy="409.9" r="5.3" fill="#0a68e6"/>
  <circle cx="349.0" cy="423.0" r="5.3" fill="#0a68e6"/>
  <circle cx="376.4" cy="422.3" r="5.3" fill="#dcdcdc"/>
  <circle cx="435.4" cy="422.7" r="5.3" fill="#f3a1c7"/>
  <circle cx="455.0" cy="429.4" r="5.3" fill="#dcdcdc"/>
  <circle cx="364.3" cy="439.9" r="5.3" fill="#e2086f"/>
  <circle cx="396.7" cy="435.1" r="5.3" fill="#8ebaf4"/>
  <circle cx="419.6" cy="437.0" r="5.3" fill="#0a68e6"/>
  <circle cx="383.9" cy="450.9" r="5.3" fill="#dcdcdc"/>
  <circle cx="436.4" cy="450.1" r="5.3" fill="#e2086f"/>
 </g>
</svg>
<div id="title" class="t ttl" style="left:342.40px;top:47.50px;font-size:24px;transform:scaleX(1.0481)">Retrieval Augmented Generation</div>
<div id="q" class="t lbl" style="left:93.49px;top:246.80px;font-size:21px;transform:scaleX(1.0028)">Question</div>
<div id="r" class="t lbl" style="left:358.53px;top:246.80px;font-size:21px;transform:scaleX(0.9832)">Retriever</div>
<div id="l1" class="t lbl" style="left:580.80px;top:246.10px;font-size:21px;transform:scaleX(0.9997)">Large Language</div>
<div id="l2" class="t lbl" style="left:631.03px;top:272.00px;font-size:21px;transform:scaleX(1.0249)">Model</div>
<div id="resp" class="t lbl" style="left:878.54px;top:246.50px;font-size:21px;transform:scaleX(0.9770)">Response</div>
<div id="ctx" class="t lbl" style="left:363.74px;top:481.20px;font-size:21px;transform:scaleX(1.0066)">Context</div>
</div></body></html>
